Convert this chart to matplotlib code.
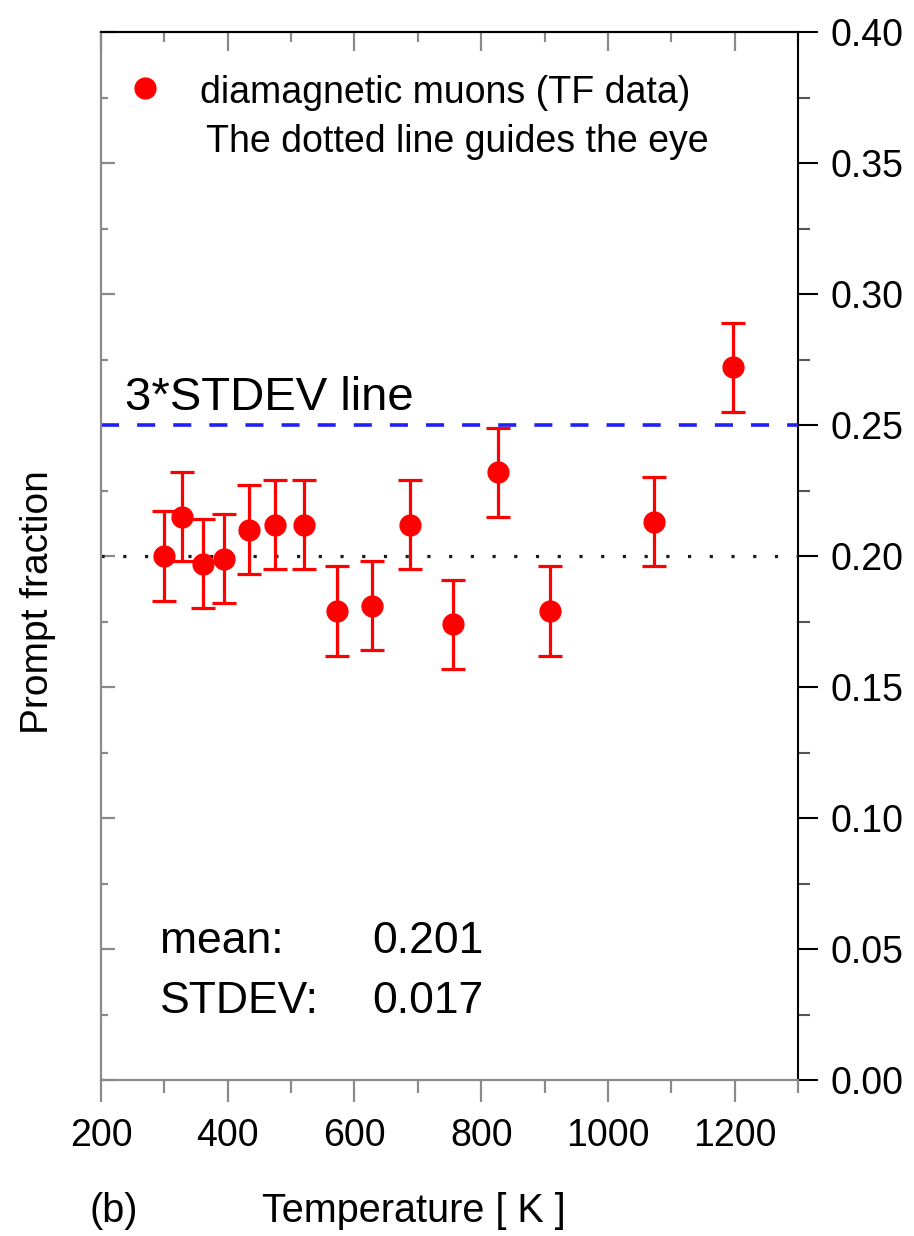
import numpy as np
import matplotlib
matplotlib.use("Agg")
import matplotlib.pyplot as plt
from matplotlib.ticker import MultipleLocator, FormatStrFormatter, NullFormatter

plt.rcParams["font.family"] = ["Liberation Sans", "DejaVu Sans"]

# Diamagnetic muon prompt fraction vs. temperature (TF data)
temperature = [300, 328, 361, 394, 433, 474, 520, 572, 627, 687, 755, 826, 908, 1072, 1198]
prompt_fraction = [0.200, 0.215, 0.197, 0.199, 0.210, 0.212, 0.212, 0.179, 0.181,
                   0.212, 0.174, 0.232, 0.179, 0.213, 0.272]
fraction_err = [0.017, 0.017, 0.017, 0.017, 0.017, 0.017, 0.017, 0.017, 0.017,
                0.017, 0.017, 0.017, 0.017, 0.017, 0.017]

guide_level = 0.20      # dotted guide line
limit_level = 0.25      # 3*STDEV line
mean_text = "0.201"
stdev_text = "0.017"

x_ticks = [200, 400, 600, 800, 1000, 1200]
y_ticks = [0.00, 0.05, 0.10, 0.15, 0.20, 0.25, 0.30, 0.35, 0.40]

GRAY = "#8a8a8a"
RED = "#ff0000"
FS = 27

fig = plt.figure(figsize=(9.14, 12.36), dpi=100)
ax = fig.add_axes([0.1105, 0.1262, 0.7626, 0.8479])
ax.set_xlim(200, 1300)
ax.set_ylim(0.0, 0.40)

# reference lines
ax.axhline(limit_level, color="#1f1fff", lw=2.6, linestyle=(0, (5.0, 5.0)), zorder=2)
ax.axhline(guide_level, color="#1a1a1a", lw=2.3, linestyle=(0, (1, 5.8)), zorder=2)

# data with error bars
ax.errorbar(temperature, prompt_fraction, yerr=fraction_err, fmt="o", color=RED,
            ms=15, ecolor=RED, elinewidth=2.3, capsize=8.5, capthick=2.3, zorder=3)

# legend-like annotations
ax.plot([0.063], [0.9466], "o", color=RED, ms=15, transform=ax.transAxes, clip_on=False)
ax.text(0.142, 0.932, "diamagnetic muons (TF data)", transform=ax.transAxes,
        fontsize=FS, va="baseline", ha="left")
ax.text(0.151, 0.8855, "The dotted line guides the eye", transform=ax.transAxes,
        fontsize=FS, va="baseline", ha="left")

ax.text(0.035, 0.639, "3*STDEV line", transform=ax.transAxes,
        fontsize=34, va="baseline", ha="left")
ax.text(0.085, 0.1212, "mean:", transform=ax.transAxes, fontsize=32, va="baseline")
ax.text(0.389, 0.1212, mean_text, transform=ax.transAxes, fontsize=32, va="baseline")
ax.text(0.085, 0.064, "STDEV:", transform=ax.transAxes, fontsize=32, va="baseline")
ax.text(0.389, 0.064, stdev_text, transform=ax.transAxes, fontsize=32, va="baseline")

# spines
for side in ("left", "bottom"):
    ax.spines[side].set_color(GRAY)
    ax.spines[side].set_linewidth(1.6)
ax.spines["top"].set_color("black")
ax.spines["top"].set_linewidth(1.5)
ax.spines["right"].set_visible(False)

# bottom x axis (outward ticks with labels)
ax.xaxis.set_major_locator(plt.FixedLocator(x_ticks))
ax.xaxis.set_minor_locator(MultipleLocator(100))
ax.tick_params(axis="x", which="major", direction="out", length=16, width=1.6,
               color=GRAY, labelsize=FS, pad=11, top=False)
ax.tick_params(axis="x", which="minor", direction="out", length=9.5, width=1.6,
               color=GRAY, top=False)

# left y axis (inward ticks, no labels)
ax.yaxis.set_major_locator(plt.FixedLocator(y_ticks))
ax.yaxis.set_minor_locator(MultipleLocator(0.025))
ax.yaxis.set_major_formatter(NullFormatter())
ax.tick_params(axis="y", which="major", direction="in", length=10, width=1.6,
               color=GRAY, right=False)
ax.tick_params(axis="y", which="minor", direction="in", length=5, width=1.6,
               color=GRAY, right=False)

# top axis: inward ticks only
top = ax.secondary_xaxis("top")
top.xaxis.set_major_locator(plt.FixedLocator(x_ticks))
top.xaxis.set_minor_locator(MultipleLocator(100))
top.xaxis.set_major_formatter(NullFormatter())
top.tick_params(which="major", direction="in", length=14, width=1.6, color=GRAY)
top.tick_params(which="minor", direction="in", length=7, width=1.6, color=GRAY)
top.spines["top"].set_color("black")
top.spines["top"].set_linewidth(1.5)

# right axis: outward ticks with labels
right = ax.secondary_yaxis("right")
right.yaxis.set_major_locator(plt.FixedLocator(y_ticks))
right.yaxis.set_minor_locator(MultipleLocator(0.025))
right.yaxis.set_major_formatter(FormatStrFormatter("%.2f"))
right.tick_params(which="major", direction="out", length=14.5, width=1.5,
                  color="black", labelsize=FS, pad=9)
right.tick_params(which="minor", direction="out", length=8.5, width=1.5, color="#555555")
right.spines["right"].set_color("black")
right.spines["right"].set_linewidth(1.5)

# axis titles
fig.text(0.042, 0.5125, "Prompt fraction", rotation=90, fontsize=28,
         ha="center", va="center")
fig.text(0.453, 0.0115, "Temperature [ K ]", fontsize=28.5, ha="center", va="baseline")
fig.text(0.098, 0.0115, "(b)", fontsize=28.5, ha="left", va="baseline")

fig.savefig("out.png", dpi=100, facecolor="white")
